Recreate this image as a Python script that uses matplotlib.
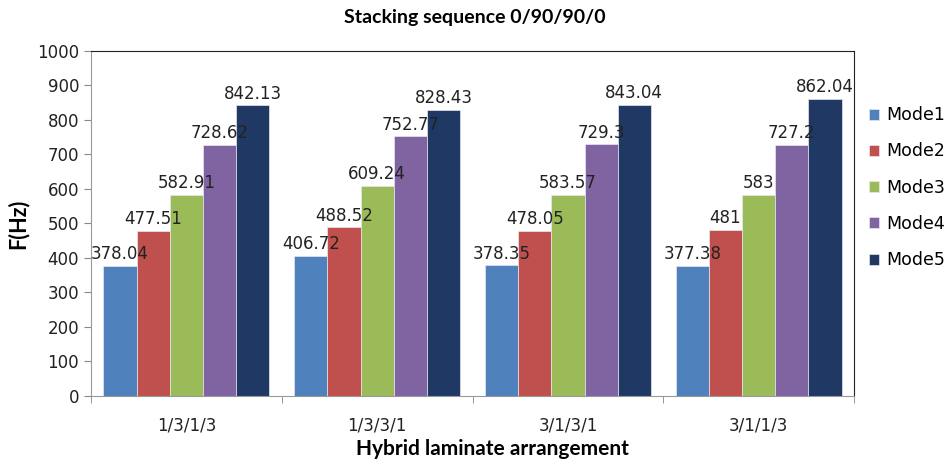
import numpy as np
from matplotlib import pyplot as plt

arrangements = ['1/3/1/3', '1/3/3/1', '3/1/3/1', '3/1/1/3']
modes = ['Mode1', 'Mode2', 'Mode3', 'Mode4', 'Mode5']
mode1 = [378.04, 406.72, 378.35, 377.38]
mode2 = [477.51, 488.52, 478.05, 481]
mode3 = [582.91, 609.24, 583.57, 583]
mode4 = [728.62, 752.77, 729.3, 727.2]
mode5 = [842.13, 828.43, 843.04, 862.04]

colors = ['#4F81BD', '#C0504D', '#9BBB59', '#8064A2', '#1F3864']
series = [mode1, mode2, mode3, mode4, mode5]

fig = plt.figure(figsize = (9.5, 4.59), dpi = 100)
ax = fig.add_axes([0.0958, 0.1373, 0.8032, 0.7516])

x = np.arange(len(arrangements))
width = 0.174
for i, vals in enumerate(series):
    pos = x + (i - 2) * width
    bars = ax.bar(pos, vals, width, color = colors[i], edgecolor = '#e8e8f0',
                  linewidth = 0.5, label = modes[i])
    ax.bar_label(bars, labels = ['{:g}'.format(v) for v in vals], padding = 2,
                 fontsize = 12, color = '#222222')

ax.set_xlim(-0.5, 3.5)
ax.set_ylim(0, 1000)
ax.set_yticks(np.arange(0, 1001, 100))
ax.tick_params(axis = 'y', direction = 'out', length = 5, color = '#888888', labelsize = 12, labelcolor = '#222222')
ax.set_xticks(x)
ax.set_xticklabels(arrangements)
ax.tick_params(axis = 'x', which = 'major', length = 0, pad = 15, labelsize = 12, labelcolor = '#222222')
ax.set_xticks(np.arange(-0.5, 3.6, 1), minor = True)
ax.tick_params(axis = 'x', which = 'minor', direction = 'out', length = 5, color = '#888888')

for side in ['left', 'bottom']:
    ax.spines[side].set_color('#999999')
for side in ['top', 'right']:
    ax.spines[side].set_color('#222222')
    ax.spines[side].set_linewidth(0.8)

ax.set_ylabel('F(Hz)', fontsize = 15.5, fontweight = 'bold', family = 'Lato', labelpad = 6)
fig.text(0.518, 0.022, 'Hybrid laminate arrangement', ha = 'center', va = 'center',
         fontsize = 15, fontweight = 'bold', family = 'Lato')
fig.text(0.5, 0.962, 'Stacking sequence 0/90/90/0', ha = 'center', va = 'center',
         fontsize = 14, fontweight = 'bold', family = 'Lato')

ax.legend(loc = 'upper left', bbox_to_anchor = (1.01, 0.86), frameon = False,
          fontsize = 12.5, handlelength = 0.6, handleheight = 0.6, handletextpad = 0.4,
          labelspacing = 1.05, borderaxespad = 0)

fig.savefig('out.png', dpi = 100)
